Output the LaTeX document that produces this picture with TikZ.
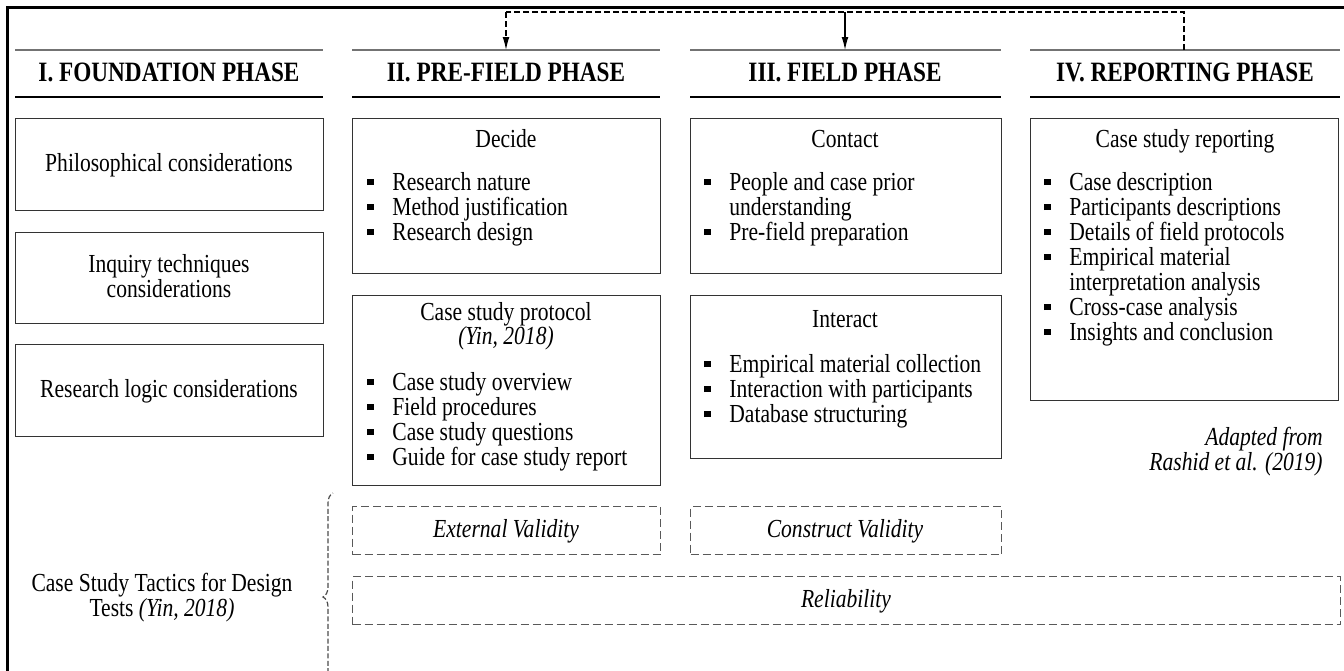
\documentclass[tikz,border=0pt]{standalone}
\usepackage{fontspec}
\setmainfont{Liberation Serif}[FakeStretch=0.83]
\usetikzlibrary{arrows.meta,decorations.pathreplacing}
\newcommand\sqb{\makebox[12.5pt][l]{\rule[2.4pt]{3.2pt}{3.2pt}}}
\tikzset{
  frame/.style={line width=1.5pt, black},
  phasetop/.style={draw=black!55, line width=1.1pt},
  phaseline/.style={draw=black, line width=0.7pt},
  box/.style={draw=black!80, line width=0.6pt, anchor=north west, inner sep=0pt},
  tacbox/.style={draw=black!65, line width=0.55pt, dash pattern=on 4pt off 2pt, anchor=north west, inner sep=0pt},
  txt/.style={anchor=base, inner sep=0pt},
  bl/.style={anchor=base west, inner sep=0pt},
  head/.style={anchor=base, inner sep=0pt, font=\fontsize{14}{14}\selectfont\bfseries},
  link/.style={line width=0.6pt, black},
  tip/.style={-{Latex[length=6.5pt,width=3.4pt]}}
}
\begin{document}
\begin{tikzpicture}[x=0.5pt,y=-0.5pt, font=\fontsize{13}{12.5}\selectfont]
\useasboundingbox (0,0) rectangle (1344,670);
\clip (0,0) rectangle (1344,670);
% outer frame
\draw[frame] (7,720) -- (7,7) -- (1370,7);
% phase header lines
\foreach \a/\b in {15/323, 352/660, 690/1001, 1030/1340}{
  \draw[phasetop] (\a,50) -- (\b,50);
  \draw[phaseline] (\a,97) -- (\b,97);
}
\coordinate (p2) at (506,50);
\coordinate (p3) at (845,50);
\coordinate (p4) at (1184,50);
\coordinate (j2) at (506,12);
\coordinate (j3) at (845,12);
\coordinate (j4) at (1184,12);
\draw[link, dash pattern=on 3pt off 1.5pt] (p4) -- (j4) -- (j2);
\draw[link, dash pattern=on 3pt off 1.5pt, tip] (j2) -- (p2);
\draw[link, tip] (j3) -- (p3);
% headings
\node[head] (h1) at (169,81) {I. FOUNDATION PHASE};
\node[head] (h2) at (506,81) {II. PRE-FIELD PHASE};
\node[head] (h3) at (845,81) {III. FIELD PHASE};
\node[head] (h4) at (1185,81) {IV. REPORTING PHASE};
% column I
\node[box, minimum width=154pt, minimum height=46pt] (phil) at (15,118) {};
\node[box, minimum width=154pt, minimum height=45.5pt] (inq) at (15,232) {};
\node[box, minimum width=154pt, minimum height=46pt] (logic) at (15,344) {};
\node[txt] (philt) at (169,171) {Philosophical considerations};
\node[txt] (inqt1) at (169,272) {Inquiry techniques};
\node[txt] (inqt2) at (169,297) {considerations};
\node[txt] (logict) at (169,397) {Research logic considerations};
% column II
\node[box, minimum width=154pt, minimum height=77.5pt] (decide) at (352,118) {};
\node[txt] (decidet) at (506,147) {Decide};
\node[bl] (d1) at (367,190) {\sqb Research nature};
\node[bl] (d2) at (367,215) {\sqb Method justification};
\node[bl] (d3) at (367,240) {\sqb Research design};
\node[box, minimum width=154pt, minimum height=95pt] (proto) at (352,295) {};
\node[txt] (protot) at (506,320) {Case study protocol};
\node[txt] (protoy) at (506,344) {\itshape (Yin, 2018)};
\node[bl] (c1) at (367,390) {\sqb Case study overview};
\node[bl] (c2) at (367,415) {\sqb Field procedures};
\node[bl] (c3) at (367,440) {\sqb Case study questions};
\node[bl] (c4) at (367,465) {\sqb Guide for case study report};
% column III
\node[box, minimum width=155.5pt, minimum height=77.5pt] (contact) at (690,118) {};
\node[txt] (contactt) at (845,147) {Contact};
\node[bl] (k1) at (704,190) {\sqb People and case prior};
\node[bl] (k1b) at (729,215) {understanding};
\node[bl] (k2) at (704,240) {\sqb Pre-field preparation};
\node[box, minimum width=155.5pt, minimum height=81.5pt] (interact) at (690,295) {};
\node[txt] (interactt) at (845,327) {Interact};
\node[bl] (i1) at (704,372) {\sqb Empirical material collection};
\node[bl] (i2) at (704,397) {\sqb Interaction with participants};
\node[bl] (i3) at (704,422) {\sqb Database structuring};
% column IV
\node[box, minimum width=154pt, minimum height=141pt] (report) at (1030,118) {};
\node[txt] (reportt) at (1185,147) {Case study reporting};
\node[bl] (r1) at (1044,190) {\sqb Case description};
\node[bl] (r2) at (1044,215) {\sqb Participants descriptions};
\node[bl] (r3) at (1044,240) {\sqb Details of field protocols};
\node[bl] (r4) at (1044,265) {\sqb Empirical material};
\node[bl] (r4b) at (1069,290) {interpretation analysis};
\node[bl] (r5) at (1044,315) {\sqb Cross-case analysis};
\node[bl] (r6) at (1044,340) {\sqb Insights and conclusion};
\node[anchor=base east, inner sep=0pt] (ad1) at (1323,445) {\itshape Adapted from};
\node[anchor=base east, inner sep=0pt] (ad2) at (1323,470) {\itshape Rashid et al. (2019)};
% tactics
\node[txt] (tac1) at (162,591) {Case Study Tactics for Design};
\node[txt] (tac2) at (162,616) {Tests \textit{(Yin, 2018)}};
\draw[draw=black!70, line width=0.6pt, dash pattern=on 2.5pt off 1.2pt, decorate, decoration={brace, amplitude=5pt}] (333,701) -- (333,493);
\node[tacbox, minimum width=154pt, minimum height=24pt] (ext) at (352,506) {};
\node[txt] (extt) at (506,537) {\itshape External Validity};
\node[tacbox, minimum width=155.5pt, minimum height=24pt] (con) at (690,506) {};
\node[txt] (cont) at (845,537) {\itshape Construct Validity};
\node[tacbox, minimum width=494pt, minimum height=24pt] (rel) at (352,576) {};
\node[txt] (relt) at (846,607) {\itshape Reliability};
\end{tikzpicture}
\end{document}
